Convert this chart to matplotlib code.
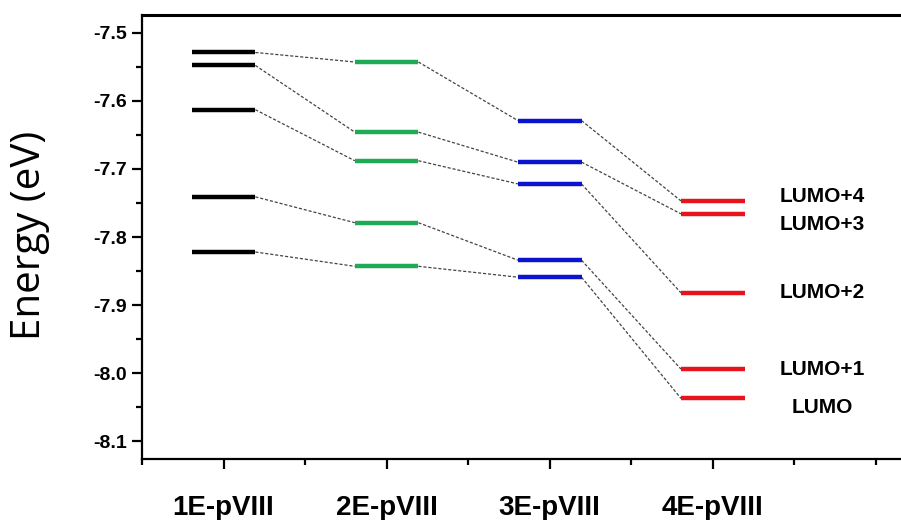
import numpy as np
import matplotlib.pyplot as plt
from matplotlib.ticker import MultipleLocator

# molecules (x positions 1..4)
molecules = ['1E-pVIII', '2E-pVIII', '3E-pVIII', '4E-pVIII']
colors = ['#000000', '#1faa55', '#0a14cc', '#e8141c']

# orbital energies (eV), LUMO+4 ... LUMO
e_1E = [-7.529, -7.548, -7.613, -7.741, -7.822]
e_2E = [-7.543, -7.646, -7.688, -7.779, -7.843]
e_3E = [-7.629, -7.690, -7.722, -7.834, -7.859]
e_4E = [-7.747, -7.766, -7.882, -7.994, -8.037]
levels = [e_1E, e_2E, e_3E, e_4E]

orbital_labels = ['LUMO+4', 'LUMO+3', 'LUMO+2', 'LUMO+1', 'LUMO']
label_y = [-7.741, -7.781, -7.882, -7.994, -8.050]

fig = plt.figure(figsize=(9.01, 5.2), dpi=100)
ax = fig.add_axes([0.1576, 0.1173, 0.905, 0.8538])

hw = 0.195
for i, (e, c) in enumerate(zip(levels, colors)):
    x = i + 1
    for v in e:
        ax.plot([x - hw, x + hw], [v, v], color=c, lw=3.2, solid_capstyle='butt', zorder=3)
    # connectors to the next molecule
    if i < len(levels) - 1:
        for v0, v1 in zip(e, levels[i + 1]):
            ax.plot([x + hw, x + 1 - hw], [v0, v1], color='#444444', lw=0.9,
                    ls=(0, (2.5, 1.5)), zorder=2)

for lab, y in zip(orbital_labels, label_y):
    ax.text(4.67, y, lab, ha='center', va='center', fontsize=15,
            fontweight='bold', family='Liberation Sans')

ax.set_xlim(0.5, 5.5)
ax.set_ylim(-8.126, -7.474)
ax.set_xticks([1, 2, 3, 4])
ax.set_xticklabels(molecules)
ax.xaxis.set_minor_locator(MultipleLocator(0.5))
ax.yaxis.set_minor_locator(MultipleLocator(0.05))
ax.set_yticks(np.arange(-8.1, -7.45, 0.1))
ax.set_yticklabels(['%.1f' % v for v in np.arange(-8.1, -7.45, 0.1)])

for s in ax.spines.values():
    s.set_linewidth(1.6)
ax.spines['top'].set_linewidth(2.2)
ax.tick_params(which='major', direction='out', length=7, width=1.6)
ax.tick_params(which='minor', direction='out', length=4, width=1.6)
ax.tick_params(axis='x', which='major', pad=19)
ax.tick_params(axis='y', which='major', pad=4)
for t in ax.get_xticklabels():
    t.set_fontsize(20)
    t.set_fontweight('bold')
    t.set_family('Liberation Sans')
for t in ax.get_yticklabels():
    t.set_fontsize(14)
    t.set_fontweight('bold')
    t.set_family('Liberation Sans')

fig.text(0.033, 0.547, 'Energy (eV)', rotation=90, ha='center', va='center',
         fontsize=29, family='Open Sans')

fig.savefig('out.png', dpi=100)
